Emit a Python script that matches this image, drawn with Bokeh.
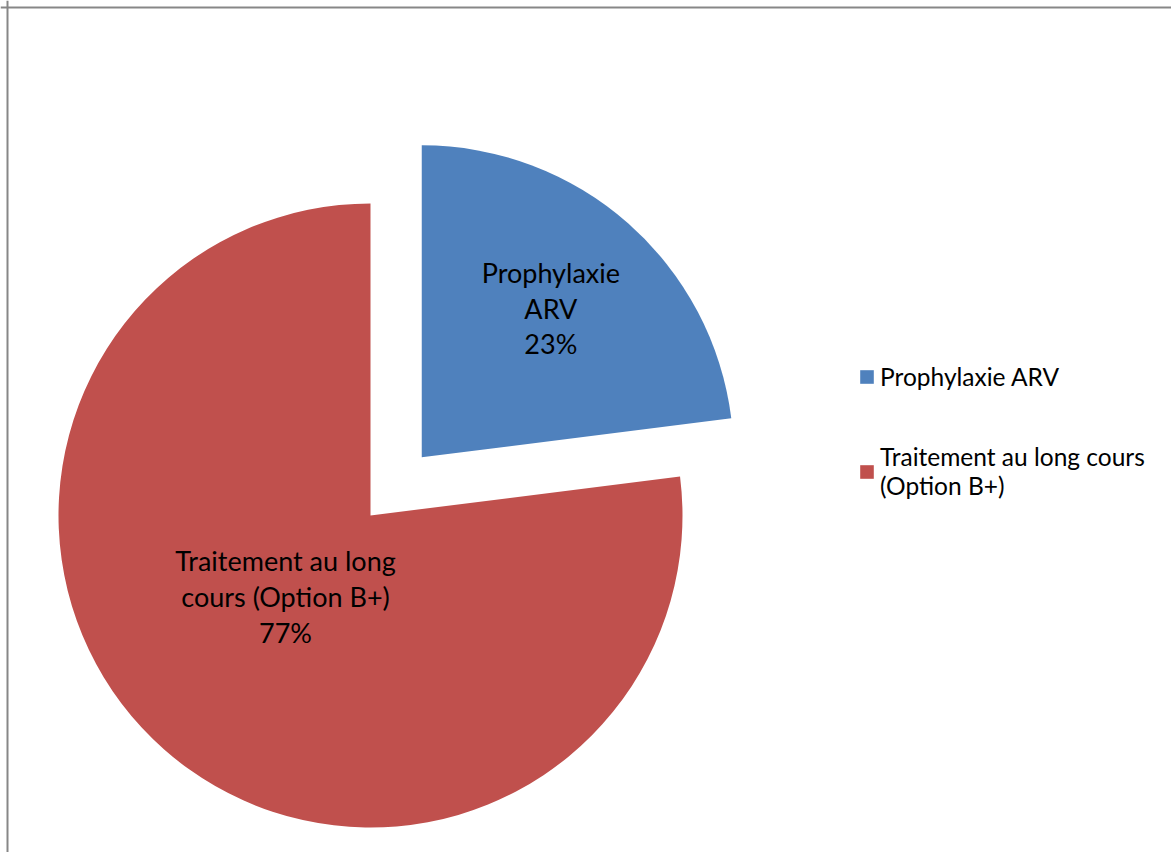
import math
from bokeh.plotting import figure
from bokeh.models import ColumnDataSource, Legend, LegendItem, Span
from bokeh.core.properties import value
from bokeh.embed import file_html
from bokeh.resources import INLINE

# ---- data ----
categories = ["Prophylaxie ARV", "Traitement au long cours (Option B+)"]
legend_labels = ["Prophylaxie ARV", "Traitement au long cours\n(Option B+)"]
slice_names = ["Prophylaxie\nARV", "Traitement au long\ncours (Option B+)"]
values = [23, 77]
colors = ["#4F81BD", "#C0504D"]
explode = [77.5, 0.0]          # pixels of explosion
label_frac = [0.632, 0.376]    # radial position of data labels
label_rot = [0.5, -5.0]        # small angular shift of data labels (degrees)

# ---- layout ----
W, H = 1171, 852
CX, CY, R = 370.0, 337.0, 312.0
FONT = "Lato"

total = float(sum(values))
starts, ends, xs, ys, lx, ly, texts = [], [], [], [], [], [], []
cum = 0.0
for v, e, f, rot, name in zip(values, explode, label_frac, label_rot, slice_names):
    end = math.radians(90.0 - cum / total * 360.0)
    start = end - math.radians(v / total * 360.0)
    mid = (start + end) / 2.0
    cx = CX + e * math.cos(mid)
    cy = CY + e * math.sin(mid)
    la = mid + math.radians(rot)
    starts.append(start)
    ends.append(end)
    xs.append(cx)
    ys.append(cy)
    lx.append(cx + f * R * math.cos(la))
    ly.append(cy + f * R * math.sin(la))
    texts.append(f"{name}\n{round(v / total * 100)}%")
    cum += v

src = ColumnDataSource(dict(x=xs, y=ys, start=starts, end=ends, color=colors,
                            lx=lx, ly=ly, text=texts))

p = figure(width=W, height=H, x_range=(0, W), y_range=(0, H),
           output_backend="svg", toolbar_location=None,
           min_border=0, background_fill_color="white", border_fill_color="white")
p.axis.visible = False
p.grid.visible = False
p.outline_line_color = None

r = p.wedge(x="x", y="y", radius=R, start_angle="start", end_angle="end",
            fill_color="color", line_color=None, source=src)

p.text(x="lx", y="ly", text="text", source=src, text_align="center",
       text_baseline="middle", text_font=value(FONT), text_font_size="27px",
       text_color="black", text_line_height=1.08)

# chart-area border (left and top visible)
p.add_layout(Span(location=7, dimension="height", line_color="#878787", line_width=2))
p.add_layout(Span(location=H - 7, dimension="width", line_color="#878787", line_width=2))

legend = Legend(items=[LegendItem(label=legend_labels[i], renderers=[r], index=i)
                       for i in range(len(values))],
                location=(858, 352), orientation="vertical",
                glyph_width=17, glyph_height=17, label_standoff=5, spacing=51,
                padding=0, margin=0, border_line_color=None,
                background_fill_alpha=0,
                label_text_font=FONT, label_text_font_size="24.5px",
                label_text_color="black")
p.add_layout(legend)

open("out.html", "w").write(file_html(p, INLINE))
